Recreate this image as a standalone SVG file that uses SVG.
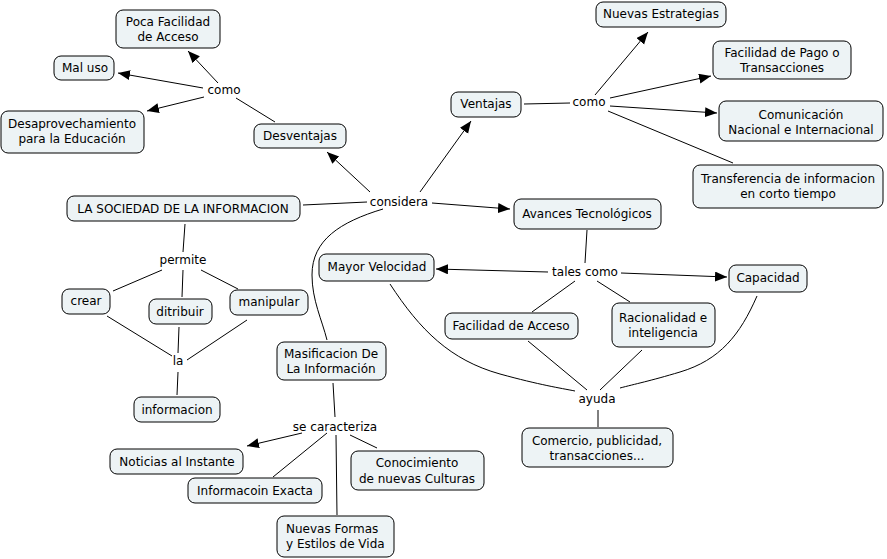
<svg xmlns="http://www.w3.org/2000/svg" width="887" height="559" viewBox="0 0 887 559">
<style>
.n rect{fill:#edf3f5;stroke:#000;stroke-width:1}
text{font-family:"DejaVu Sans",Verdana,sans-serif;font-size:12px;fill:#000;text-anchor:middle}
.l text{fill:#000}
.c path,.c line{fill:none;stroke:#000;stroke-width:1}
</style>
<defs>
<marker id="a" markerUnits="userSpaceOnUse" markerWidth="13" markerHeight="11" refX="12" refY="5" orient="auto">
<path d="M0,0 L12,5 L0,10 z" fill="#000"/>
</marker>
</defs>
<rect width="887" height="559" fill="#fff"/>
<g class="c">
<line x1="275" y1="122" x2="236" y2="98"/>
<line x1="218" y1="83" x2="188" y2="51" marker-end="url(#a)"/>
<line x1="203" y1="88" x2="118" y2="73" marker-end="url(#a)"/>
<line x1="204" y1="97" x2="147" y2="111" marker-end="url(#a)"/>
<line x1="370" y1="192" x2="327" y2="152" marker-end="url(#a)"/>
<line x1="420" y1="192" x2="471" y2="121" marker-end="url(#a)"/>
<line x1="303" y1="205" x2="367" y2="202"/>
<line x1="432" y1="203" x2="510" y2="209" marker-end="url(#a)"/>
<path d="M383,209 C340,222 312,240 312,275 C312,300 322,320 327,340"/>
<line x1="524" y1="104" x2="570" y2="103"/>
<line x1="595" y1="95" x2="648" y2="32" marker-end="url(#a)"/>
<line x1="610" y1="98" x2="711" y2="76" marker-end="url(#a)"/>
<line x1="610" y1="106" x2="717" y2="113" marker-end="url(#a)"/>
<line x1="608" y1="111" x2="733" y2="163"/>
<line x1="185" y1="224" x2="183" y2="252"/>
<line x1="162" y1="270" x2="113" y2="291"/>
<line x1="183" y1="270" x2="182" y2="297"/>
<line x1="201" y1="270" x2="238" y2="289"/>
<line x1="107" y1="316" x2="172" y2="356"/>
<line x1="179" y1="327" x2="178" y2="353"/>
<line x1="247" y1="320" x2="187" y2="360"/>
<line x1="178" y1="372" x2="177" y2="395"/>
<line x1="587" y1="230" x2="585" y2="263"/>
<line x1="548" y1="272" x2="436" y2="269" marker-end="url(#a)"/>
<line x1="621" y1="273" x2="727" y2="277" marker-end="url(#a)"/>
<line x1="575" y1="281" x2="532" y2="312"/>
<line x1="597" y1="281" x2="630" y2="302"/>
<path d="M390,284 C420,330 450,360 500,374 C540,385 560,388 575,391"/>
<line x1="528" y1="341" x2="587" y2="390"/>
<line x1="642" y1="350" x2="600" y2="390"/>
<path d="M757,296 C740,335 720,360 680,372 C650,381 635,384 620,388"/>
<line x1="598" y1="410" x2="598" y2="427"/>
<line x1="333" y1="383" x2="335" y2="417"/>
<line x1="302" y1="433" x2="247" y2="446" marker-end="url(#a)"/>
<line x1="327" y1="433" x2="273" y2="477"/>
<line x1="336" y1="435" x2="337" y2="515"/>
<line x1="350" y1="435" x2="377" y2="448"/>
</g>
<g class="l">
<text x="224" y="94">como</text>
<text x="399" y="206">considera</text>
<text x="589" y="106">como</text>
<text x="183" y="264">permite</text>
<text x="585" y="276">tales como</text>
<text x="178" y="365">la</text>
<text x="597" y="403">ayuda</text>
<text x="335" y="431">se caracteriza</text>
</g>
<g id="n1" class="n"><rect x="116" y="10" width="104" height="38" rx="7"/><text x="168" y="26">Poca Facilidad</text><text x="168" y="41">de Acceso</text></g>
<g id="n2" class="n"><rect x="54" y="56" width="60" height="24" rx="7"/><text x="85" y="72">Mal uso</text></g>
<g id="n3" class="n"><rect x="1" y="111" width="143" height="42" rx="7"/><text x="72" y="128">Desaprovechamiento</text><text x="72" y="143">para la Educación</text></g>
<g id="n4" class="n"><rect x="254" y="124" width="92" height="24" rx="7"/><text x="300" y="140">Desventajas</text></g>
<g id="n5" class="n"><rect x="451" y="92" width="70" height="25" rx="7"/><text x="486" y="108">Ventajas</text></g>
<g id="n6" class="n"><rect x="596" y="2" width="130" height="25" rx="7"/><text x="661" y="18">Nuevas Estrategias</text></g>
<g id="n7" class="n"><rect x="713" y="41" width="138" height="38" rx="7"/><text x="782" y="57">Facilidad de Pago o</text><text x="782" y="72">Transacciones</text></g>
<g id="n8" class="n"><rect x="719" y="101" width="164" height="40" rx="7"/><text x="801" y="119">Comunicación</text><text x="801" y="134">Nacional e Internacional</text></g>
<g id="n9" class="n"><rect x="693" y="165" width="190" height="43" rx="7"/><text x="788" y="183">Transferencia de informacion</text><text x="788" y="198">en corto tiempo</text></g>
<g id="n10" class="n"><rect x="67" y="196" width="233" height="25" rx="7"/><text x="183" y="213">LA SOCIEDAD DE LA INFORMACION</text></g>
<g id="n11" class="n"><rect x="514" y="199" width="147" height="30" rx="7"/><text x="587" y="218">Avances Tecnológicos</text></g>
<g id="n12" class="n"><rect x="319" y="254" width="115" height="27" rx="7"/><text x="377" y="271">Mayor Velocidad</text></g>
<g id="n13" class="n"><rect x="729" y="265" width="78" height="27" rx="7"/><text x="768" y="282">Capacidad</text></g>
<g id="n14" class="n"><rect x="62" y="289" width="48" height="25" rx="7"/><text x="86" y="305">crear</text></g>
<g id="n15" class="n"><rect x="149" y="299" width="63" height="25" rx="7"/><text x="180" y="316">ditribuir</text></g>
<g id="n16" class="n"><rect x="230" y="290" width="78" height="25" rx="7"/><text x="269" y="306">manipular</text></g>
<g id="n17" class="n"><rect x="445" y="313" width="133" height="26" rx="7"/><text x="511" y="330">Facilidad de Acceso</text></g>
<g id="n18" class="n"><rect x="612" y="303" width="103" height="44" rx="7"/><text x="663" y="322">Racionalidad e</text><text x="663" y="337">inteligencia</text></g>
<g id="n19" class="n"><rect x="277" y="342" width="109" height="38" rx="7"/><text x="331" y="358">Masificacion De</text><text x="331" y="373">La Información</text></g>
<g id="n20" class="n"><rect x="134" y="397" width="86" height="25" rx="7"/><text x="177" y="414">informacion</text></g>
<g id="n21" class="n"><rect x="522" y="428" width="151" height="39" rx="7"/><text x="597" y="445">Comercio, publicidad,</text><text x="597" y="460">transacciones...</text></g>
<g id="n22" class="n"><rect x="110" y="449" width="133" height="25" rx="7"/><text x="177" y="466">Noticias al Instante</text></g>
<g id="n23" class="n"><rect x="351" y="451" width="133" height="39" rx="7"/><text x="417" y="467">Conocimiento</text><text x="417" y="483">de nuevas Culturas</text></g>
<g id="n24" class="n"><rect x="188" y="478" width="134" height="25" rx="7"/><text x="255" y="495">Informacoin Exacta</text></g>
<g id="n25" class="n"><rect x="277" y="516" width="117" height="41" rx="7"/><text x="286" y="533" style="text-anchor:start">Nuevas Formas</text><text x="286" y="548" style="text-anchor:start">y Estilos de Vida</text></g>
</svg>
